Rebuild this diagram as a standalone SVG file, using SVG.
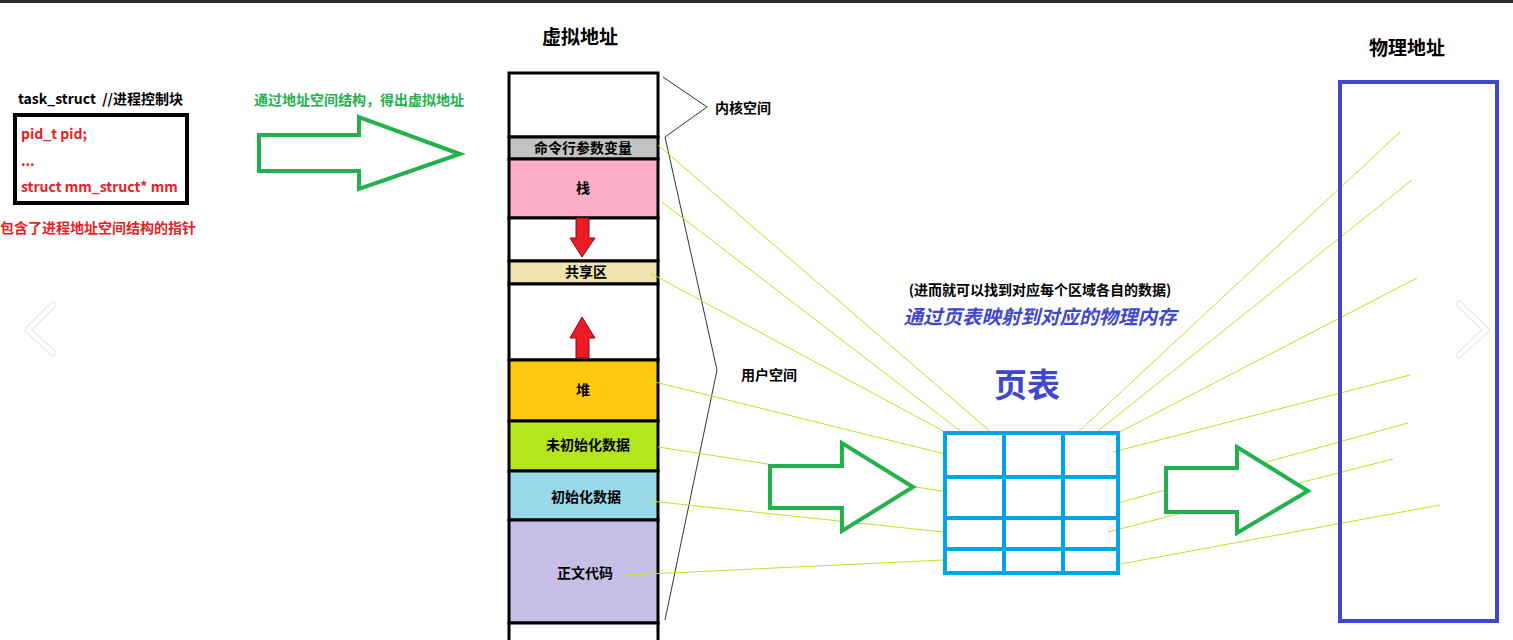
<svg xmlns="http://www.w3.org/2000/svg" width="1513" height="640" viewBox="0 0 1513 640">
<style>
.t{font-family:"Noto Sans CJK SC","Noto Sans",sans-serif;font-weight:bold;}
.blk{fill:#000;font-size:14px;}
.red{fill:#ed1c24;font-size:14px;}
.grn{fill:#22b14c;font-size:14px;}
.ttl{fill:#000;font-size:19px;}
.mid{text-anchor:middle;}
.seg{stroke:#000;stroke-width:3;}
.map{stroke:#b5e61d;stroke-width:1;fill:none;}
.brace{stroke:#333;stroke-width:1;fill:none;}
.garrow{fill:#fff;stroke:#22b14c;stroke-width:4;stroke-linejoin:miter;}
.rarrow{fill:#ed1c24;stroke:#7a0f12;stroke-width:1;}
.pt{stroke:#00a2e8;stroke-width:4;fill:none;}
.chev{fill:none;stroke-linecap:round;stroke-linejoin:round;}
</style>
<rect x="0" y="0" width="1513" height="640" fill="#fff"/>
<rect x="0" y="0" width="1513" height="3" fill="#2b2b2b"/>

<g id="carousel-prev">
<polyline class="chev" points="53,305 28,330 53,353" stroke="#ececec" stroke-width="7"/>
<polyline class="chev" points="53,305 28,330 53,353" stroke="#fff" stroke-width="4"/>
</g>
<g id="carousel-next">
<polyline class="chev" points="1459,304 1486,330 1459,355" stroke="#ececec" stroke-width="7"/>
<polyline class="chev" points="1459,304 1486,330 1459,355" stroke="#fff" stroke-width="4"/>
</g>

<g id="task-struct">
<text class="t blk" x="18" y="104">task_struct&#160;&#160;//进程控制块</text>
<rect x="15" y="115" width="172" height="88" fill="#fff" stroke="#000" stroke-width="4"/>
<text class="t red" x="21" y="139">pid_t pid;</text>
<text class="t red" x="21" y="166">...</text>
<text class="t red" x="21" y="192">struct mm_struct* mm</text>
<text class="t red" x="0" y="233">包含了进程地址空间结构的指针</text>
</g>

<g id="arrow-to-virtual">
<text class="t grn" x="254" y="105">通过地址空间结构，得出虚拟地址</text>
<polygon class="garrow" points="259,135 359,135 359,117 460,154 359,189 359,171 259,171"/>
</g>

<g id="virtual-address">
<text class="t ttl mid" x="580" y="44">虚拟地址</text>
<rect class="seg" x="509" y="73" width="149" height="64" fill="#fff"/>
<rect class="seg" x="509" y="137" width="149" height="22" fill="#c3c3c3"/>
<rect class="seg" x="509" y="159" width="149" height="59" fill="#ffaec9"/>
<rect class="seg" x="509" y="218" width="149" height="43" fill="#fff"/>
<rect class="seg" x="509" y="261" width="149" height="23" fill="#efe4b0"/>
<rect class="seg" x="509" y="284" width="149" height="76" fill="#fff"/>
<rect class="seg" x="509" y="360" width="149" height="61" fill="#ffc90e"/>
<rect class="seg" x="509" y="421" width="149" height="50" fill="#b5e61d"/>
<rect class="seg" x="509" y="471" width="149" height="49" fill="#99d9ea"/>
<rect class="seg" x="509" y="520" width="149" height="103" fill="#c8bfe7"/>
<rect class="seg" x="509" y="623" width="149" height="30" fill="#fff"/>
<text class="t blk mid" x="583" y="153">命令行参数变量</text>
<text class="t blk mid" x="583" y="193">栈</text>
<text class="t blk mid" x="586" y="277">共享区</text>
<text class="t blk mid" x="583" y="395">堆</text>
<text class="t blk mid" x="588" y="450">未初始化数据</text>
<text class="t blk mid" x="586" y="502">初始化数据</text>
<text class="t blk mid" x="585" y="578">正文代码</text>
<polygon class="rarrow" points="576,218 589,218 589,238 595,238 582,257 570,238 576,238"/>
<polygon class="rarrow" points="576,358 589,358 589,338 595,338 582,317 570,338 576,338"/>
</g>

<g id="kernel-space">
<polyline class="brace" points="663,77 707,107 665,137"/>
<text class="t blk" x="715" y="113">内核空间</text>
</g>
<g id="user-space">
<polyline class="brace" points="665,137 717,370 665,620"/>
<text class="t blk" x="741" y="380">用户空间</text>
</g>

<g id="connectors">
<line class="map" x1="658" y1="145" x2="992" y2="433"/>
<line class="map" x1="662" y1="202" x2="963" y2="433"/>
<line class="map" x1="650" y1="273" x2="945" y2="432"/>
<line class="map" x1="647" y1="380" x2="945" y2="454"/>
<line class="map" x1="658" y1="447" x2="948" y2="492"/>
<line class="map" x1="650" y1="501" x2="943" y2="532"/>
<line class="map" x1="627" y1="575" x2="943" y2="560"/>
<line class="map" x1="1075" y1="435" x2="1400" y2="132"/>
<line class="map" x1="1093" y1="435" x2="1412" y2="180"/>
<line class="map" x1="1112" y1="436" x2="1417" y2="278"/>
<line class="map" x1="1113" y1="452" x2="1410" y2="375"/>
<line class="map" x1="1118" y1="503" x2="1408" y2="423"/>
<line class="map" x1="1108" y1="532" x2="1393" y2="459"/>
<line class="map" x1="1115" y1="565" x2="1440" y2="505"/>
</g>

<g id="arrow-to-pagetable">
<polygon class="garrow" points="770,466 842,466 842,443 913,487 842,531 842,508 770,508"/>
</g>

<g id="page-table">
<text class="t mid" x="1040" y="295" font-size="14" fill="#000">(进而就可以找到对应每个区域各自的数据)</text>
<text class="t mid" x="1040" y="324" font-size="19.5" font-style="italic" fill="#3f48cc">通过页表映射到对应的物理内存</text>
<text class="t mid" x="1027" y="397" font-size="33" fill="#3f48cc">页表</text>
<rect class="pt" x="945" y="433" width="173" height="140"/>
<line class="pt" x1="1004" y1="433" x2="1004" y2="573"/>
<line class="pt" x1="1063" y1="433" x2="1063" y2="573"/>
<line class="pt" x1="945" y1="477" x2="1118" y2="477"/>
<line class="pt" x1="945" y1="518" x2="1118" y2="518"/>
<line class="pt" x1="945" y1="549" x2="1118" y2="549"/>
</g>

<g id="arrow-to-physical">
<polygon class="garrow" points="1166,468 1237,468 1237,447 1308,491 1237,533 1237,512 1166,512"/>
</g>

<g id="physical-address">
<text class="t ttl mid" x="1407" y="55">物理地址</text>
<rect x="1340" y="82" width="157" height="539" fill="none" stroke="#3f48cc" stroke-width="4"/>
</g>
</svg>
